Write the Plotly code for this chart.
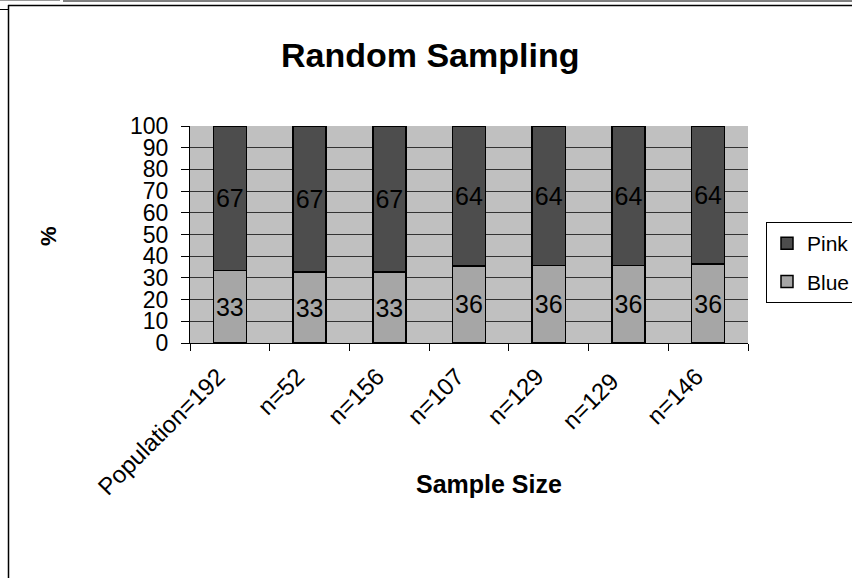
import plotly.graph_objects as go

categories = ["Population=192", "n=52", "n=156", "n=107", "n=129", "n=129 ", "n=146"]
blue_values = [33.3, 32.7, 32.7, 35.5, 35.7, 35.7, 36.3]
pink_values = [66.7, 67.3, 67.3, 64.5, 64.3, 64.3, 63.7]
blue_labels = ["33", "33", "33", "36", "36", "36", "36"]
pink_labels = ["67", "67", "67", "64", "64", "64", "64"]
y_ticks = [0, 10, 20, 30, 40, 50, 60, 70, 80, 90, 100]

W, H = 852, 578
L, R, T, B = 190, 748, 126, 343
FONT = "Liberation Sans, Arial, sans-serif"


def px(x):
    return (x - L) / (R - L)


def py(y):
    return (B - y) / (B - T)


fig = go.Figure()
fig.add_trace(go.Bar(
    x=categories, y=blue_values, name="Blue", text=blue_labels,
    textposition="inside", insidetextanchor="middle", textangle=0,
    constraintext="none", texttemplate="%{text}",
    textfont=dict(size=25, color="black", family=FONT),
    marker=dict(color="#A6A6A6", line=dict(color="black", width=1.5)),
    legendgroup="b", legendrank=2, hoverinfo="skip",
))
fig.add_trace(go.Bar(
    x=categories, y=pink_values, name="Pink", text=pink_labels,
    textposition="inside", insidetextanchor="middle", textangle=0,
    constraintext="none", texttemplate="%{text}",
    textfont=dict(size=25, color="black", family=FONT),
    marker=dict(color="#4D4D4D", line=dict(color="black", width=1.5)),
    legendgroup="p", legendrank=1, hoverinfo="skip",
))

shapes = [
    # outer frame
    dict(type="line", xref="paper", yref="paper", x0=px(8.5), x1=px(8.5), y0=py(5), y1=py(578), line=dict(color="black", width=1.5)),
    dict(type="line", xref="paper", yref="paper", x0=px(8), x1=px(852), y0=py(5.5), y1=py(5.5), line=dict(color="black", width=1.5)),
    dict(type="line", xref="paper", yref="paper", x0=px(63), x1=px(852), y0=py(1), y1=py(1), line=dict(color="black", width=1)),
    dict(type="line", xref="paper", yref="paper", x0=px(0), x1=px(8), y0=py(9.5), y1=py(9.5), line=dict(color="black", width=1)),
    dict(type="line", xref="paper", yref="paper", x0=px(0), x1=px(60), y0=py(0.5), y1=py(0.5), line=dict(color="#999999", width=1)),
]

annotations = [
    dict(text="<b>Random Sampling</b>", xref="paper", yref="paper", x=px(430), y=py(55),
         showarrow=False, font=dict(size=34, color="black", family=FONT), xanchor="center", yanchor="middle"),
    dict(text="<b>%</b>", xref="paper", yref="paper", x=px(48), y=py(236), textangle=-90,
         showarrow=False, font=dict(size=22, color="black", family=FONT), xanchor="center", yanchor="middle"),
    dict(text="<b>Sample Size</b>", xref="paper", yref="paper", x=px(489), y=py(484),
         showarrow=False, font=dict(size=25, color="black", family=FONT), xanchor="center", yanchor="middle"),
]

fig.update_layout(
    width=W, height=H,
    margin=dict(l=L, r=W - R, t=T, b=H - B, pad=0),
    paper_bgcolor="white", plot_bgcolor="#C0C0C0",
    barmode="stack", bargap=0.585,
    font=dict(family=FONT, color="black"),
    showlegend=True,
    legend=dict(
        xref="container", yref="container",
        x=766 / W, y=1 - 222 / H, xanchor="left", yanchor="top",
        bgcolor="white", bordercolor="black", borderwidth=1,
        font=dict(size=21, color="black", family=FONT),
        traceorder="grouped", tracegroupgap=8,
        itemwidth=30,
    ),
    shapes=shapes, annotations=annotations,
)
fig.update_xaxes(
    type="category", tickson="boundaries", ticks="outside", ticklen=7, tickcolor="black",
    tickangle=-45, tickfont=dict(size=24, color="black", family=FONT),
    ticklabelstandoff=9, ticklabelshift=-12,
    showline=True, linecolor="black", linewidth=1, showgrid=False,
)
fig.update_yaxes(
    range=[0, 100], tickvals=y_ticks, ticks="outside", ticklen=8, tickcolor="black",
    tickfont=dict(size=23, color="black", family=FONT),
    ticklabelstandoff=8,
    showline=True, linecolor="black", linewidth=1,
    showgrid=True, gridcolor="#333333", gridwidth=1, zeroline=False,
)

fig.write_html("out.html", config={"displayModeBar": False},
               post_script="document.body.style.margin='0';document.body.style.overflow='hidden';")
